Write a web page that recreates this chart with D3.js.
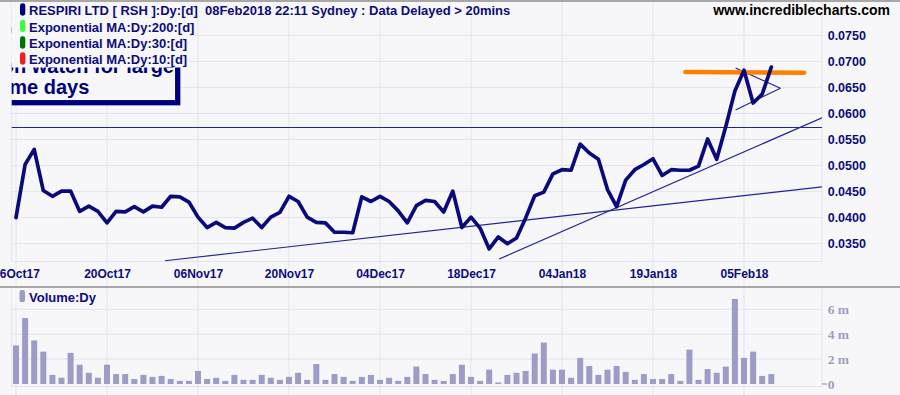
<!DOCTYPE html>
<html><head><meta charset="utf-8">
<script src="https://cdn.jsdelivr.net/npm/d3@7"></script>
<style>html,body{margin:0;padding:0;background:#f7f7fa;overflow:hidden}</style>
</head><body><svg id="c" width="900" height="395"></svg>
<script>
// ---- data ----
const closes = [
  0.0400,0.0502,0.0531,0.0452,0.0441,0.0451,0.0451,0.0412,0.0422,0.0412,
  0.0390,0.0412,0.0411,0.0421,0.0411,0.0422,0.0420,0.0441,0.0440,0.0430,
  0.0401,0.0381,0.0391,0.0381,0.0380,0.0391,0.0399,0.0381,0.0401,0.0410,
  0.0441,0.0431,0.0401,0.0391,0.0390,0.0372,0.0372,0.0371,0.0440,0.0431,
  0.0441,0.0431,0.0413,0.0390,0.0423,0.0433,0.0431,0.0411,0.0451,0.0381,
  0.0401,0.0380,0.0340,0.0363,0.0350,0.0361,0.0399,0.0442,0.0449,0.0484,
  0.0492,0.0491,0.0541,0.0524,0.0512,0.0454,0.0421,0.0472,0.0492,0.0502,
  0.0513,0.0481,0.0492,0.0491,0.0491,0.0499,0.0551,0.0512,0.0575,0.0643,
  0.0683,0.0620,0.0637,0.0689
];
const volumesM = [
  3.1,5.3,3.5,2.6,0.73,0.5,2.5,1.55,0.9,0.5,
  1.55,0.8,0.8,0.4,0.73,0.57,0.65,0.4,0.25,0.25,
  1.05,0.4,0.5,0.25,0.73,0.33,0.33,0.73,0.5,0.33,
  0.57,0.9,0.33,1.6,0.33,0.8,0.57,0.25,0.57,0.73,
  0.33,0.5,0.25,0.57,1.4,0.8,0.33,0.25,0.8,1.55,
  0.57,0.25,1.15,0.12,0.73,0.9,1.05,2.45,3.33,1.15,
  1.15,0.5,2.1,1.45,0.73,1.15,1.45,0.97,0.33,0.8,
  0.4,0.4,0.8,0.25,2.76,0.33,1.2,0.9,1.4,6.83,
  2.1,2.6,0.65,0.8
];
const xTickIdx = [0,10,20,30,40,50,60,70,80];
const xTickLabels = ["06Oct17","20Oct17","06Nov17","20Nov17","04Dec17","18Dec17","04Jan18","19Jan18","05Feb18"];
const priceTicks = [0.035,0.040,0.045,0.050,0.055,0.060,0.065,0.070,0.075];
const volTicks = [0,2,4,6];
const volTickLabels = ["0","2 m","4 m","6 m"];
// drawn trend lines: [barIndex, price]
const trendFlat = [[-2,0.0573],[92,0.0573]];
const trendLong = [[16.37,0.03173],[88.57,0.0459]];
const trendSteep = [[53.1,0.03206],[88.57,0.05917]];
const triUpper = [[79.07,0.06871],[84.0,0.06485]];
const triLower = [[79.07,0.06067],[84.0,0.06485]];
const resistance = [[73.57,0.06796],[86.6,0.0678]];
const legendItems = [
  {label:"RESPIRI LTD [ RSH ]:Dy:[d]  08Feb2018 22:11 Sydney : Data Delayed > 20mins", color:"#00007a"},
  {label:"Exponential MA:Dy:200:[d]", color:"#3cff3c"},
  {label:"Exponential MA:Dy:30:[d]", color:"#007000"},
  {label:"Exponential MA:Dy:10:[d]", color:"#ff1a1a"}
];
const noteLines = ["Keep on watch for large","for some days"];

// ---- layout ----
const BG="#f7f7fa", GRID="#e3e3ec", NAVY="#0c0c7c";
const L=11.7, R=822, mainTop=2, mainBot=261.5, volTop=289, volBot=386.5;
const FONT="Liberation Sans, Arial, sans-serif";
const svg = d3.select("#c");
svg.append("rect").attr("width",900).attr("height",395).attr("fill",BG);

const x = d3.scaleLinear().domain([0,83]).range([16,771.3]);
const y = d3.scaleLinear().domain([0.035,0.075]).range([243.7,35.3]);
const yv = d3.scaleLinear().domain([0,6]).range([384,309.3]);

svg.append("clipPath").attr("id","mainClip").append("rect")
  .attr("x",L).attr("y",mainTop).attr("width",R-L).attr("height",mainBot-mainTop);

// panel borders
svg.append("line").attr("x1",0).attr("x2",900).attr("y1",1).attr("y2",1).attr("stroke","#a8a8a8").attr("stroke-width",2);
svg.append("line").attr("x1",0).attr("x2",900).attr("y1",287).attr("y2",287).attr("stroke","#a8a8a8").attr("stroke-width",2);

// gridlines main
const g = svg.append("g");
g.selectAll(".vg").data(xTickIdx).join("line")
  .attr("x1",d=>x(d)).attr("x2",d=>x(d)).attr("y1",mainTop).attr("y2",286)
  .attr("stroke",GRID).attr("stroke-width",1);
g.selectAll(".hg").data(priceTicks).join("line")
  .attr("x1",L).attr("x2",R).attr("y1",d=>y(d)).attr("y2",d=>y(d))
  .attr("stroke",GRID).attr("stroke-width",1);
g.append("line").attr("x1",L).attr("x2",L).attr("y1",mainTop).attr("y2",mainBot).attr("stroke",GRID);
g.append("line").attr("x1",R).attr("x2",R).attr("y1",mainTop).attr("y2",mainBot).attr("stroke",GRID);
g.append("line").attr("x1",L).attr("x2",R).attr("y1",mainBot).attr("y2",mainBot).attr("stroke",GRID);

// note box (clipped)
const note = svg.append("g").attr("clip-path","url(#mainClip)");
note.append("rect").attr("x",-200).attr("y",30).attr("width",377.7).attr("height",72.7)
  .attr("fill",BG).attr("stroke","#00007a").attr("stroke-width",5.3);
note.append("text").attr("x",174).attr("y",72.7).attr("text-anchor","end")
  .attr("font-family",FONT).attr("font-weight","bold").attr("font-size",20)
  .attr("fill","#00007a").text(noteLines[0]);
note.append("text").attr("x",89.3).attr("y",94.3).attr("text-anchor","end")
  .attr("font-family",FONT).attr("font-weight","bold").attr("font-size",20)
  .attr("fill","#00007a").text(noteLines[1]);

// lines
const line = d3.line().x(d=>x(d[0])).y(d=>y(d[1]));
const lines = svg.append("g").attr("clip-path","url(#mainClip)");
[trendFlat,trendLong,trendSteep,triUpper,triLower].forEach(t=>{
  lines.append("path").attr("d",line(t)).attr("fill","none").attr("stroke","#22229a").attr("stroke-width",1.2);
});
lines.append("path").attr("d",line(resistance)).attr("fill","none").attr("stroke","#ff8000")
  .attr("stroke-width",4.6).attr("stroke-linecap","round");
const priceLine = d3.line().x((d,i)=>x(i)).y(d=>y(d));
lines.append("path").attr("d",priceLine(closes)).attr("fill","none").attr("stroke","#0a0a7c")
  .attr("stroke-width",3.7).attr("stroke-linejoin","round").attr("stroke-linecap","round");

// price axis
const ya = svg.append("g").attr("transform",`translate(${R},0)`)
  .call(d3.axisRight(y).tickValues(priceTicks).tickSize(0).tickPadding(5.7).tickFormat(d3.format(".4f")));
ya.select(".domain").remove();
ya.selectAll("text").attr("font-family",FONT).attr("font-weight","bold")
  .attr("font-size",12.5).attr("fill","#0c0c7c");

// x axis
const xa = svg.append("g").attr("transform",`translate(0,${mainBot})`)
  .call(d3.axisBottom(x).tickValues(xTickIdx).tickSize(0).tickPadding(8).tickFormat((d,i)=>xTickLabels[i]));
xa.select(".domain").remove();
xa.selectAll("text").attr("font-family",FONT).attr("font-weight","bold")
  .attr("font-size",12).attr("fill","#0c0c7c")
  .attr("stroke",BG).attr("stroke-width",3).attr("paint-order","stroke");

// legend
const lg = svg.append("g").attr("font-family",FONT).attr("font-weight","bold").attr("font-size",13);
const baselines=[15,31.5,48,64];
legendItems.forEach((it,i)=>{
  const b=baselines[i];
  const bgRect = lg.append("rect").attr("x",L).attr("y",b-13).attr("height",i==0?14.5:16.5).attr("fill",BG);
  const t = lg.append("text").attr("x",29).attr("y",b).attr("fill","#0c0c7c")
    .style("white-space","pre").attr("xml:space","preserve").text(it.label);
  const w = t.node().getComputedTextLength();
  bgRect.attr("width",29-L+w+2);
  lg.append("rect").attr("x",20).attr("y",b-11.7).attr("width",5.3).attr("height",12.4).attr("rx",2.4).attr("fill",it.color);
});
svg.append("text").attr("x",890).attr("y",15).attr("text-anchor","end")
  .attr("font-family",FONT).attr("font-weight","bold").attr("font-size",14)
  .attr("fill","#000").text("www.incrediblecharts.com");

// ---- volume panel ----
const vg = svg.append("g");
vg.selectAll(".vvg").data(xTickIdx).join("line")
  .attr("x1",d=>x(d)).attr("x2",d=>x(d)).attr("y1",volTop).attr("y2",395)
  .attr("stroke",GRID);
vg.selectAll(".vhg").data(volTicks.slice(1)).join("line")
  .attr("x1",L).attr("x2",R).attr("y1",d=>yv(d)).attr("y2",d=>yv(d)).attr("stroke",GRID);
vg.append("line").attr("x1",L).attr("x2",L).attr("y1",volTop).attr("y2",volBot).attr("stroke",GRID);
vg.append("line").attr("x1",R).attr("x2",R).attr("y1",volTop).attr("y2",volBot).attr("stroke",GRID);
vg.append("line").attr("x1",L).attr("x2",R).attr("y1",volBot).attr("y2",volBot).attr("stroke",GRID);

vg.selectAll(".bar").data(volumesM).join("rect")
  .attr("x",(d,i)=>x(i)-3).attr("width",6)
  .attr("y",d=>yv(d)).attr("height",d=>yv(0)-yv(d))
  .attr("fill","#9c9cc6");

const va = svg.append("g").attr("transform",`translate(${R},0)`)
  .call(d3.axisRight(yv).tickValues(volTicks).tickSize(0).tickPadding(5.7).tickFormat((d,i)=>volTickLabels[i]));
va.select(".domain").remove();
va.selectAll("text").attr("font-family","Liberation Serif, Times New Roman, serif").attr("font-weight","bold")
  .attr("font-size",13.5).attr("fill","#9e9ec6");
svg.append("line").attr("x1",R).attr("x2",R+5).attr("y1",yv(0)).attr("y2",yv(0)).attr("stroke","#9e9ec6").attr("stroke-width",1.2);

// volume legend
const vlg = svg.append("g");
const vbg = vlg.append("rect").attr("x",L).attr("y",289).attr("height",16).attr("fill",BG);
const vt = vlg.append("text").attr("x",29).attr("y",302).attr("font-family",FONT)
  .attr("font-weight","bold").attr("font-size",13).attr("fill","#0c0c7c").text("Volume:Dy");
vbg.attr("width",29-L+vt.node().getComputedTextLength()+4);
vlg.append("rect").attr("x",19.5).attr("y",290).attr("width",5.5).attr("height",12.3).attr("rx",2.4).attr("fill","#9c9cc6");
</script></body></html>
